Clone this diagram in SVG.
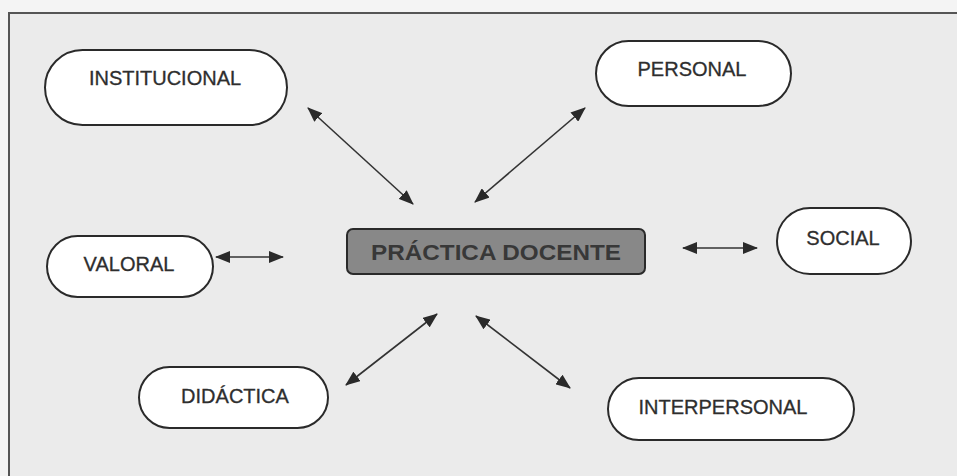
<svg xmlns="http://www.w3.org/2000/svg" width="957" height="476" viewBox="0 0 957 476">
<defs>
<style>
.pill{fill:#ffffff;stroke:#2a2a2a;stroke-width:2}
.lbl{font-family:"Liberation Sans",Arial,sans-serif;font-size:20px;fill:#2e2e2e;stroke:#2e2e2e;stroke-width:0.3;text-anchor:middle}
.main{font-family:"Liberation Sans",Arial,sans-serif;font-size:22px;font-weight:bold;fill:#383838;text-anchor:middle}
.conn{stroke:#333333;stroke-width:1.6;fill:none;marker-start:url(#ah);marker-end:url(#ah)}
</style>
<marker id="ah" viewBox="0 0 15 12" refX="14" refY="6" markerWidth="15" markerHeight="12" markerUnits="userSpaceOnUse" orient="auto-start-reverse">
<path d="M0,0 L15,6 L0,12 Z" fill="#2a2a2a"/>
</marker>
</defs>
<rect x="0" y="0" width="957" height="476" fill="#f4f4f4"/>
<rect x="9" y="13" width="960" height="470" fill="#ebebeb" stroke="#555555" stroke-width="2"/>
<g id="connectors">
<line class="conn" x1="308" y1="108" x2="413" y2="204"/>
<line class="conn" x1="585" y1="108" x2="475" y2="202"/>
<line class="conn" x1="216" y1="257" x2="283" y2="257"/>
<line class="conn" x1="683" y1="248" x2="757" y2="248"/>
<line class="conn" x1="437" y1="314" x2="346" y2="385"/>
<line class="conn" x1="476" y1="316" x2="570" y2="388"/>
</g>
<g id="practica-docente">
<rect x="347" y="229" width="298" height="45" rx="6" fill="#888888" stroke="#2a2a2a" stroke-width="2"/>
<text class="main" x="496" y="260" textLength="250" lengthAdjust="spacingAndGlyphs">PRÁCTICA DOCENTE</text>
</g>
<g id="institucional">
<rect class="pill" x="45" y="50" width="242" height="75" rx="37.5"/>
<text class="lbl" x="165" y="85">INSTITUCIONAL</text>
</g>
<g id="personal">
<rect class="pill" x="596" y="41" width="195" height="65" rx="32.5"/>
<text class="lbl" x="692" y="76">PERSONAL</text>
</g>
<g id="social">
<rect class="pill" x="777" y="208" width="134" height="66" rx="33"/>
<text class="lbl" x="843" y="245">SOCIAL</text>
</g>
<g id="valoral">
<rect class="pill" x="47" y="236" width="166" height="61" rx="30.5"/>
<text class="lbl" x="129" y="271">VALORAL</text>
</g>
<g id="didactica">
<rect class="pill" x="139" y="367" width="189" height="61" rx="30.5"/>
<text class="lbl" x="235" y="403">DIDÁCTICA</text>
</g>
<g id="interpersonal">
<rect class="pill" x="608" y="378" width="246" height="62" rx="31"/>
<text class="lbl" x="723" y="414">INTERPERSONAL</text>
</g>
</svg>
